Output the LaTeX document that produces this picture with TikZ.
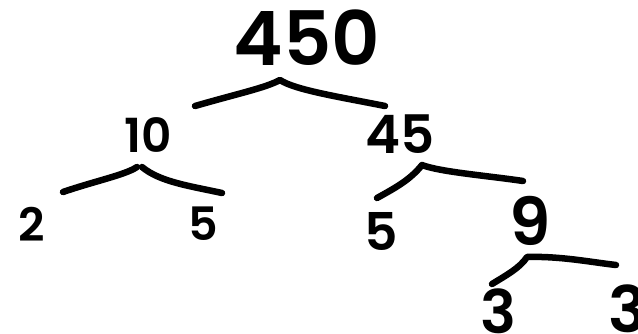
\documentclass[tikz,border=0pt]{standalone}
\usepackage{fontspec}
\setmainfont{Poppins}
\newfontfamily\numfont{Poppins SemiBold}
\begin{document}
\begin{tikzpicture}[x=1pt,y=-1pt,
  num/.style={inner sep=0pt, font=\fontsize{#1}{#1}\selectfont\numfont},
  branch/.style={line width=6.5pt, line cap=round, line join=round}]
\useasboundingbox (0,0) rectangle (638,333);
\node[num=75] (n450) at (307,38) {450};
\node[num=47] (n10) at (148,135) {10};
\node[num=53] (n45) at (400,134) {45};
\node[num=46] (n2) at (32,224) {2};
\node[num=46] (n5a) at (203,224) {5};
\node[num=52] (n5b) at (381,231) {5};
\node[num=66] (n9) at (530,221) {9};
\node[num=60] (n3a) at (498,311) {3};
\node[num=64] (n3b) at (628,309) {3};
% branch points
\coordinate (a1) at (195,106);
\coordinate (p1) at (280,80);
\coordinate (b1) at (385,106);
\coordinate (a2) at (63,192);
\coordinate (p2) at (137,167);
\coordinate (q2) at (142,167);
\coordinate (b2) at (222,193);
\coordinate (a3) at (377,198);
\coordinate (p3) at (422,165);
\coordinate (b3) at (523,181);
\coordinate (a4) at (492,284);
\coordinate (p4) at (527,257);
\coordinate (b4) at (616,265);
\draw[branch] (a1) .. controls (240,93) and (265,88) .. (p1) .. controls (295,90) and (340,97) .. (b1);
\draw[branch] (a2) .. controls (95,181) and (125,175) .. (p2);
\draw[branch] (q2) .. controls (160,182) and (190,186) .. (b2);
\draw[branch] (a3) .. controls (395,188) and (410,180) .. (p3) .. controls (440,172) and (490,176) .. (b3);
\draw[branch] (a4) .. controls (505,276) and (520,268) .. (p4) .. controls (560,256) and (590,262) .. (b4);
\end{tikzpicture}
\end{document}
